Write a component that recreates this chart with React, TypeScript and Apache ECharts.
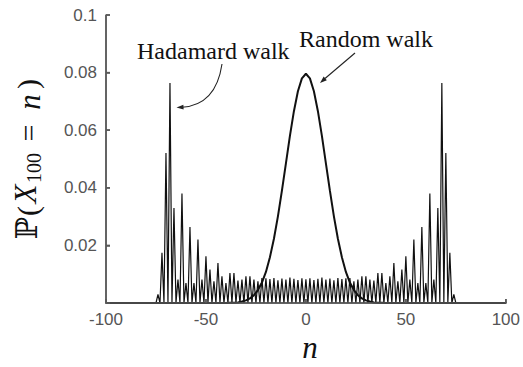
import React, { useEffect, useRef } from "react";
import * as echarts from "echarts";

// x-axis ticks (n) and y-axis ticks (probability)
const xTicks = [-100, -50, 0, 50, 100];
const yTicks = [0, 0.02, 0.04, 0.06, 0.08, 0.1];

// Hadamard walk: probabilities at even n from -74 to 74 (odd n are 0)
const hadamardStart = -74;
const hadamardEven = [
  0.0030, 0.0174, 0.0521, 0.0764, 0.0330, 0.0081, 0.0380, 0.0069, 0.0264, 0.0069, // -74..-56
  0.0220, 0.0081, 0.0162, 0.0116, 0.0075, 0.0139, 0.0093, 0.0069, 0.0104, 0.0104, // -54..-36
  0.0078, 0.0081, 0.0093, 0.0093, 0.0081, 0.0075, 0.0087, 0.0086, 0.0083, 0.0087, // -34..-16
  0.0079, 0.0085, 0.0081, 0.0088, 0.0084, 0.0080, 0.0086, // -14..-2
  0.0082, // 0
  0.0086, 0.0080, 0.0084, 0.0088, 0.0081, 0.0085, 0.0079, // 2..14
  0.0087, 0.0083, 0.0086, 0.0087, 0.0075, 0.0081, 0.0093, 0.0093, 0.0081, 0.0078, // 16..34
  0.0104, 0.0104, 0.0069, 0.0093, 0.0139, 0.0075, 0.0116, 0.0162, 0.0081, 0.0220, // 36..54
  0.0069, 0.0264, 0.0069, 0.0380, 0.0081, 0.0330, 0.0764, 0.0521, 0.0174, 0.0030, // 56..74
];

// Random walk: probabilities at even n from -40 to 40 (flat at 0 elsewhere)
const randomStart = -40;
const randomEven = [
  0.0000, 0.0001, 0.0001, 0.0002, 0.0005, 0.0009, 0.0016, 0.0027, 0.0045, 0.0071,
  0.0108, 0.0159, 0.0223, 0.0301, 0.0390, 0.0485, 0.0580, 0.0666, 0.0735, 0.0780,
  0.0796,
  0.0780, 0.0735, 0.0666, 0.0580, 0.0485, 0.0390, 0.0301, 0.0223, 0.0159, 0.0108,
  0.0071, 0.0045, 0.0027, 0.0016, 0.0009, 0.0005, 0.0002, 0.0001, 0.0001, 0.0000,
];

export default function App() {
  const ref = useRef<HTMLDivElement>(null);

  useEffect(() => {
    const chart = echarts.init(ref.current!, null, { renderer: "svg" });
    const xMin = xTicks[0], xMax = xTicks[xTicks.length - 1];
    const yMin = yTicks[0], yMax = yTicks[yTicks.length - 1];

    const hw: number[][] = [[xMin, 0]];
    hadamardEven.forEach((v, i) => {
      const n = hadamardStart + 2 * i;
      hw.push([n - 1, 0]);
      hw.push([n, v]);
    });
    hw.push([hadamardStart + 2 * (hadamardEven.length - 1) + 1, 0]);
    hw.push([xMax, 0]);

    const rw: number[][] = [[xMin, 0]];
    randomEven.forEach((v, i) => rw.push([randomStart + 2 * i, v]));
    rw.push([xMax, 0]);

    const serif = '"Liberation Serif", "Times New Roman", serif';
    const sans = '"Liberation Sans", Arial, sans-serif';
    const titleColor = "#111";
    const axisColor = "#5a5a5a";
    const rot = Math.PI / 2;
    const yTitlePieces = [
      { t: "\u2119", x: 26, y: 228, font: '30px "DejaVu Serif", "DejaVu Sans", serif' },
      { t: "(", x: 27, y: 211, font: `30px ${serif}` },
      { t: "X", x: 25, y: 194, font: `italic 31px ${serif}` },
      { t: "100", x: 34, y: 168, font: `20px ${serif}` },
      { t: "=", x: 28, y: 133, font: `30px ${serif}` },
      { t: "n", x: 29, y: 102, font: `italic 31px ${serif}` },
      { t: ")", x: 27, y: 84, font: `30px ${serif}` },
    ];

    const arrowHead = (tx: number, ty: number, dx: number, dy: number) => {
      const len = Math.hypot(dx, dy);
      const ux = dx / len, uy = dy / len;
      const bx = tx - ux * 7, by = ty - uy * 7;
      const px = -uy * 2.4, py = ux * 2.4;
      return {
        type: "polygon",
        shape: { points: [[tx, ty], [bx + px, by + py], [bx - px, by - py]] },
        style: { fill: "#222" },
      };
    };

    chart.setOption({
      animation: false,
      backgroundColor: "#fff",
      grid: { left: 106, right: 15, top: 15, bottom: 64, show: false },
      xAxis: {
        type: "value",
        position: "bottom",
        min: xMin,
        max: xMax,
        interval: xTicks[1] - xTicks[0],
        axisLine: { show: true, lineStyle: { color: axisColor, width: 1.5 } },
        axisTick: { show: true, inside: true, length: 4, lineStyle: { color: axisColor, width: 1.5 } },
        axisLabel: { color: "#555", fontSize: 17, fontFamily: sans, margin: 8 },
        splitLine: { show: false },
      },
      yAxis: {
        type: "value",
        position: "left",
        min: yMin,
        max: yMax,
        interval: yTicks[1] - yTicks[0],
        axisLine: { show: true, onZero: false, lineStyle: { color: axisColor, width: 1.5 } },
        axisTick: { show: true, inside: true, length: 4, lineStyle: { color: axisColor, width: 1.5 } },
        axisLabel: {
          color: "#555",
          fontSize: 17,
          fontFamily: sans,
          margin: 9,
          formatter: (v: number) => (v === 0 ? "" : String(Math.round(v * 100) / 100)),
        },
        splitLine: { show: false },
      },
      series: [
        {
          type: "line",
          data: hw,
          showSymbol: false,
          lineStyle: { color: "#111", width: 1.2 },
          z: 2,
        },
        {
          type: "line",
          data: rw,
          showSymbol: false,
          lineStyle: { color: "#111", width: 2 },
          z: 3,
        },
      ],
    });

    // axis frame placed through the chart's own scales (drawn on top)
    const toPx = (x: number, y: number) =>
      chart.convertToPixel({ xAxisIndex: 0, yAxisIndex: 0 }, [x, y]) as number[];
    const [ax, ay] = toPx(xMin, yMin);
    const [bx] = toPx(xMax, yMin);
    const [, ty] = toPx(xMin, yMax);
    const frame: any[] = [
      { type: "rect", z: 100, shape: { x: ax - 0.75, y: ty, width: 1.5, height: ay - ty }, style: { fill: axisColor } },
      { type: "rect", z: 100, shape: { x: ax - 0.75, y: ay - 0.75, width: bx - ax + 1.5, height: 1.5 }, style: { fill: axisColor } },
      ...yTicks.map((v) => {
        const [, y] = toPx(xMin, v);
        return { type: "rect", z: 100, shape: { x: ax, y: y - 0.75, width: 4, height: 1.5 }, style: { fill: axisColor } };
      }),
      ...xTicks.map((v) => {
        const [x] = toPx(v, yMin);
        return { type: "rect", z: 100, shape: { x: x - 0.75, y: ay - 4, width: 1.5, height: 4 }, style: { fill: axisColor } };
      }),
    ];

    chart.setOption({
      graphic: [
        ...frame,
        ...yTitlePieces.map((p) => ({
          type: "text",
          x: p.x,
          y: p.y,
          rotation: rot,
          style: { text: p.t, font: p.font, fill: titleColor, align: "center", verticalAlign: "middle" },
        })),
        {
          type: "text",
          x: 310,
          y: 347,
          style: { text: "n", font: `italic 31px ${serif}`, fill: titleColor, align: "center", verticalAlign: "middle" },
        },
        {
          type: "text",
          x: 137,
          y: 63,
          style: { text: "Hadamard walk", font: `24px ${serif}`, fill: titleColor, align: "left", verticalAlign: "bottom" },
        },
        {
          type: "text",
          x: 299,
          y: 51,
          style: { text: "Random walk", font: `24px ${serif}`, fill: titleColor, align: "left", verticalAlign: "bottom" },
        },
        {
          type: "bezierCurve",
          shape: { x1: 222, y1: 64, cpx1: 216, cpy1: 105, x2: 182, y2: 107.3 },
          style: { stroke: "#222", lineWidth: 1.1, fill: "none" },
        },
        arrowHead(176.5, 107.5, -36, 2),
        {
          type: "line",
          shape: { x1: 355, y1: 53, x2: 325, y2: 78.5 },
          style: { stroke: "#222", lineWidth: 1.1 },
        },
        arrowHead(320, 83, -34, 30),
      ],
    });

    return () => chart.dispose();
  }, []);

  return (
    <div
      ref={ref}
      style={{ position: "fixed", left: 0, top: 0, width: 523, height: 367, background: "#fff" }}
    />
  );
}
